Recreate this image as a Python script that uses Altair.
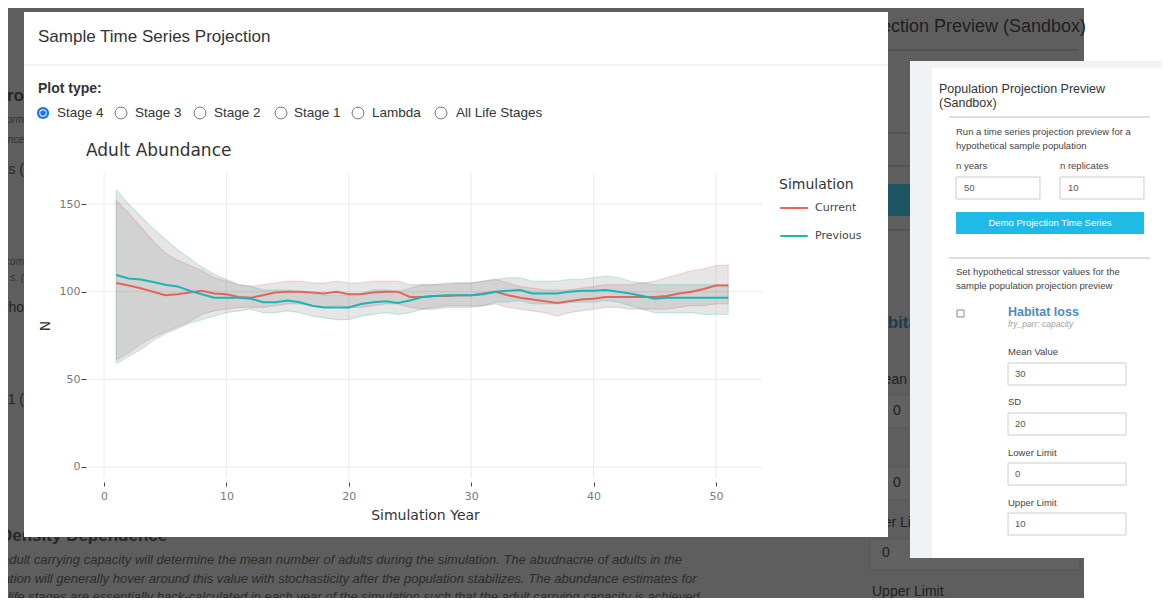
import altair as alt
import pandas as pd

# ---------------- data ----------------
years = list(range(1, 52))
simulations = ["Current", "Previous"]

current_mean = [105, 103.5, 102, 100, 98, 98.5, 99.5, 100.5, 99, 98.5,
                97, 96.5, 98, 99.5, 100, 100, 99.5, 99, 100, 98.5,
                98.5, 99.5, 100, 100, 97, 97, 97.5, 97.5, 98, 98,
                99, 100, 98, 96.5, 95.5, 94.5, 93.5, 94.5, 95.5, 96,
                97, 97, 97, 97, 97, 97.5, 99, 100, 101.5, 103.5, 103.5]
current_lo = [61, 65, 70, 74, 77, 80, 83, 87, 89, 90,
              91, 91, 91, 92, 93, 93, 92, 91, 92, 91,
              91, 92, 93, 93, 91, 90, 90, 91, 91, 91,
              92, 93, 91, 90, 89, 88, 86, 88, 89, 90,
              91, 91, 90, 90, 90, 90, 91, 92, 92, 93, 93]
current_hi = [152, 145, 137, 129, 122, 118, 115, 112, 108, 106,
              104, 103, 104, 105, 106, 106, 105, 105, 106, 105,
              105, 106, 106, 106, 104, 104, 104, 104, 105, 105,
              106, 107, 105, 103, 102, 101, 101, 101, 102, 103,
              104, 104, 104, 105, 106, 108, 110, 112, 113, 115, 115]

previous_mean = [109.5, 107.5, 107, 105.5, 104, 103, 100.5, 98.5, 96.5, 96.5,
                 96.5, 96, 94, 94, 95, 94, 92, 91, 91, 91,
                 93, 94, 94.5, 93.5, 95, 97, 97.5, 98, 98, 98,
                 98.5, 100, 100.5, 101, 99, 99, 99, 100, 100.5, 100.5,
                 101, 100, 99, 97.5, 96, 96.5, 96.5, 96.5, 96.5, 96.5, 96.5]
previous_lo = [59, 63, 67, 72, 76, 79, 82, 84, 86, 88,
               89, 90, 88, 88, 89, 88, 86, 85, 84, 84,
               86, 87, 88, 87, 88, 90, 91, 92, 92, 92,
               92, 94, 94, 95, 93, 93, 93, 94, 94, 94,
               95, 94, 92, 90, 88, 88, 88, 88, 87, 87, 87]
previous_hi = [158, 150, 143, 136, 130, 124, 119, 114, 110, 107,
               104, 103, 101, 101, 101, 100, 99, 98, 98, 98,
               99, 101, 101, 100, 102, 104, 104, 105, 105, 105,
               106, 107, 108, 108, 106, 106, 106, 107, 107, 108,
               109, 108, 106, 105, 104, 104, 104, 104, 104, 104, 104]

x_ticks = [0, 10, 20, 30, 40, 50]
y_ticks = [0, 50, 100, 150]
plot_types = ["Stage 4", "Stage 3", "Stage 2", "Stage 1", "Lambda", "All Life Stages"]
sim_colors = ["#e0665e", "#1cb4b7"]

rows = []
for sim, m, lo, hi in [("Current", current_mean, current_lo, current_hi),
                       ("Previous", previous_mean, previous_lo, previous_hi)]:
    assert len(m) == len(lo) == len(hi) == len(years)
    for yr, a, b, c in zip(years, m, lo, hi):
        rows.append({"year": yr, "sim": sim, "mean": a, "lo": b, "hi": c})
df = pd.DataFrame(rows)

# ---------------- page layout (decoration only, page pixels) ----------------
OX, OY = 88, 173          # page position of the plot area
W, H = 674, 305           # plot area size
UI = "Liberation Sans"
CF = "DejaVu Sans"
ONE = pd.DataFrame({"k": [0]})


def texts(items, size, color, font=UI, weight="normal", style="normal", align="left"):
    out = []
    for (x, y, s) in items:
        out.append(alt.Chart(ONE).mark_text(
            align=align, baseline="middle", fontSize=size, color=color, font=font,
            fontWeight=weight, fontStyle=style).encode(
            x=alt.value(x - OX), y=alt.value(y - OY), text=alt.value(s)))
    return out


def rects(items, fill, stroke=None, sw=1.0):
    out = []
    for (a, b, c, e) in items:
        kw = {"fill": fill}
        if stroke:
            kw.update(stroke=stroke, strokeWidth=sw)
        out.append(alt.Chart(ONE).mark_rect(**kw).encode(
            x=alt.value(a - OX), x2=alt.value(b - OX),
            y=alt.value(c - OY), y2=alt.value(e - OY)))
    return out


def hlines(items, color, sw=1.0):
    out = []
    for (a, b, c) in items:
        out.append(alt.Chart(ONE).mark_rule(color=color, strokeWidth=sw).encode(
            x=alt.value(a - OX), x2=alt.value(b - OX), y=alt.value(c - OY)))
    return out


def dots(items, size, fill, stroke=None, sw=1.0):
    out = []
    for (x, y) in items:
        kw = {"shape": "circle", "size": size, "filled": True, "fill": fill, "opacity": 1}
        if stroke:
            kw.update(stroke=stroke, strokeWidth=sw)
        out.append(alt.Chart(ONE).mark_point(**kw).encode(
            x=alt.value(x - OX), y=alt.value(y - OY)))
    return out


layers = []
# white page on the far right
layers += rects([(1084, 1175, -10, 620)], "#ffffff")
# dimmed page behind the overlay
layers += hlines([(880, 1078, 50), (880, 1078, 133), (880, 1078, 166), (880, 1078, 230)], "#505050", 1.5)
layers += rects([(880, 1080, 184, 216)], "#1d5565")
layers += rects([(880, 1080, 395, 428), (880, 1080, 467, 500), (870, 1080, 539, 570)], "#626262", "#555555")
layers += texts([(1086, 27, "Population Projection Preview (Sandbox)")], 18, "#202020", align="right")
layers += texts([(872, 380, "Mean Value"), (893, 411, "0"), (893, 483, "0"),
                 (858, 523, "Lower Limit"), (882, 553, "0"), (872, 592, "Upper Limit")], 14, "#202020")
layers += texts([(866, 323, "Habitat loss")], 17, "#1c3a52", weight="bold")
layers += texts([(0, 536, "Density Dependence")], 17, "#262626", weight="bold")
layers += texts([(24, 96, "pro")], 17, "#262626", weight="bold", align="right")
layers += texts([(24, 170, "ts ("), (24, 308, "_rho"), (24, 400, "_1 (")], 14, "#262626", align="right")
layers += texts([(24, 120, "orm"), (24, 140, "ance"), (24, 262, "com"), (24, 278, "s. (")],
                10, "#333333", style="italic", align="right")
layers += texts([
    (2, 560, "adult carrying capacity will determine the mean number of adults during the simulation. The abudnacne of adults in the"),
    (0, 579, "lation will generally hover around this value with stochasticity after the population stabilizes. The abundance estimates for"),
    (0, 597, "r life stages are essentially back-calculated in each year of the simulation such that the adult carrying capacity is achieved"),
], 13, "#2c2c2c", style="italic")

# modal
layers += rects([(24, 888, 12, 537)], "#ffffff")
layers += hlines([(24, 888, 65)], "#e8e8e8")
layers += texts([(38, 37, "Sample Time Series Projection")], 17, "#333333")
layers += texts([(38, 89, "Plot type:")], 14, "#333333", weight="bold")
radio_x = [43, 121, 200, 281, 358, 441]
label_x = [57, 135, 214, 294, 372, 456]
layers += dots([(x, 113) for x in radio_x[1:]], 140, "#ffffff", "#767676", 1)
layers += dots([(radio_x[0], 113)], 150, "#1a73e8")
layers += dots([(radio_x[0], 113)], 55, "#ffffff")
layers += dots([(radio_x[0], 113)], 30, "#1a73e8")
layers += texts([(x, 113, s) for x, s in zip(label_x, plot_types)], 13.5, "#333333")
layers += texts([(86, 151, "Adult Abundance")], 17, "#333333", font=CF)

# right panel
layers += rects([(910, 1175, 61, 558)], "#f0f2f5")
layers += rects([(932, 1168, 68, 558)], "#ffffff")
layers += hlines([(949, 1150, 117), (949, 1150, 258)], "#dddddd", 2)
layers += texts([(939, 89, "Population Projection Preview"), (939, 103, "(Sandbox)")], 12.5, "#333333")
layers += texts([(956, 132, "Run a time series projection preview for a"),
                 (956, 146, "hypothetical sample population"),
                 (956, 166, "n years"), (1060, 166, "n replicates"),
                 (956, 272, "Set hypothetical stressor values for the"),
                 (956, 286, "sample population projection preview"),
                 (1008, 352, "Mean Value"), (1008, 402, "SD"),
                 (1008, 453, "Lower Limit"), (1008, 503, "Upper Limit")], 9.5, "#444444")
layers += rects([(956, 1040, 177, 199), (1060, 1144, 177, 199),
                 (1008, 1126, 363, 385), (1008, 1126, 413, 435),
                 (1008, 1126, 463, 485), (1008, 1126, 513, 535)], "#ffffff", "#cccccc")
layers += texts([(964, 188, "50"), (1068, 188, "10"), (1015, 374, "30"),
                 (1015, 424, "20"), (1015, 474, "0"), (1015, 524, "10")], 9.5, "#555555")
layers += rects([(956, 1144, 212, 234)], "#1fbbe6")
layers += texts([(1050, 223, "Demo Projection Time Series")], 9.5, "#ffffff", align="center")
layers += rects([(957, 964, 310, 317)], "#ffffff", "#888888")
layers += texts([(1008, 312, "Habitat loss")], 12.5, "#4a8cc2", weight="bold")
layers += texts([(1008, 324, "fry_parr: capacity")], 8.5, "#a0a0a0", style="italic")

# ---------------- the plot ----------------
xs = alt.Scale(domain=[-1.31, 53.76], nice=False, zero=False)
ys = alt.Scale(domain=[-6.3, 167.7], nice=False, zero=False)
cs = alt.Scale(domain=simulations, range=sim_colors)

grid_x = alt.Chart(pd.DataFrame({"t": x_ticks})).mark_rule(color="#ebebeb", strokeWidth=1).encode(
    x=alt.X("t:Q", scale=xs), y=alt.value(0), y2=alt.value(H))
grid_y = alt.Chart(pd.DataFrame({"t": y_ticks})).mark_rule(color="#ebebeb", strokeWidth=1).encode(
    y=alt.Y("t:Q", scale=ys), x=alt.value(0), x2=alt.value(W))

ribbon_layers = []
for sim, col in zip(simulations, sim_colors):
    ribbon_layers.append(
        alt.Chart(df).transform_filter(alt.datum.sim == sim).mark_area(
            fill="#808080", fillOpacity=0.2, stroke=col, strokeWidth=1.2, strokeOpacity=0.22).encode(
            x=alt.X("year:Q", scale=xs),
            y=alt.Y("lo:Q", scale=ys), y2="hi:Q"))

lines = alt.Chart(df).mark_line(strokeWidth=2).encode(
    x=alt.X("year:Q", scale=xs, axis=alt.Axis(
        values=x_ticks, format="d", grid=False, domain=False, ticks=True, tickColor="#444444",
        tickSize=4, tickWidth=1, offset=4, labelColor="#7a7a7a", labelFont=CF, labelFontSize=11,
        labelPadding=4, title="Simulation Year", titleFont=CF, titleFontSize=14,
        titleFontWeight="normal", titleColor="#333333", titlePadding=7, zindex=1)),
    y=alt.Y("mean:Q", scale=ys, axis=alt.Axis(
        values=y_ticks, format="d", grid=False, domain=False, ticks=True, tickColor="#444444",
        tickSize=5, tickWidth=1, offset=2, labelColor="#7a7a7a", labelFont=CF, labelFontSize=11,
        labelPadding=1, title="N", titleFont=CF, titleFontSize=14, titleFontWeight="normal",
        titleColor="#333333", titlePadding=7, zindex=1)),
    color=alt.Color("sim:N", scale=cs, legend=alt.Legend(
        title="Simulation", orient="none", legendX=691, legendY=5, symbolType="stroke",
        symbolSize=760, symbolStrokeWidth=2, labelFont=CF, labelFontSize=11, labelColor="#444444",
        titleFont=CF, titleFontSize=14, titleFontWeight="normal", titleColor="#333333",
        rowPadding=8, titlePadding=1, labelOffset=6, zindex=1)))

layers += [grid_x, grid_y] + ribbon_layers + [lines]

chart = alt.layer(*layers).properties(
    width=W, height=H,
    padding={"left": OX - 8, "top": OY - 8, "right": 1154 - (OX - 8) - W, "bottom": 590 - (OY - 8) - H},
    autosize=alt.AutoSizeParams(type="none"),
    background="#5e5e5e",
).configure_view(stroke=None)

chart.save("out.html", embed_options={"renderer": "svg", "actions": False})
